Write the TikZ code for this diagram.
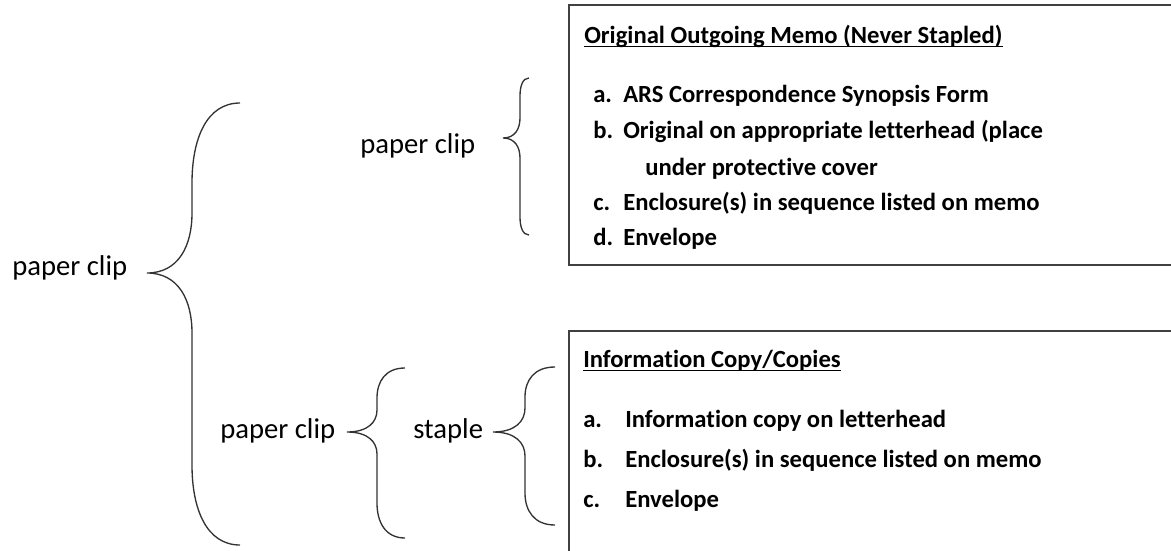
\documentclass[tikz,border=0pt]{standalone}
\usepackage{fontspec}
\setmainfont{Carlito}[Ligatures=NoCommon]
\newcommand\mybrace[9]{% #1 tip x, #2 tip y, #3 spine x, #4 end x, #5 top y, #6 bottom y, #7 top radius, #8 tip radius, #9 bottom radius
  \draw[brc] (#4,#5) .. controls ({#3+0.3*(#4-#3)},#5) and (#3,{#5+0.45*#7}) .. (#3,{#5+#7})
    -- (#3,{#2-#8}) .. controls (#3,{#2-0.45*#8}) and ({#3-0.3*(#3-#1)},#2) .. (#1,#2)
    .. controls ({#3-0.3*(#3-#1)},#2) and (#3,{#2+0.45*#8}) .. (#3,{#2+#8})
    -- (#3,{#6-#9}) .. controls (#3,{#6-0.45*#9}) and ({#3+0.3*(#4-#3)},#6) .. (#4,#6);}
\begin{document}
\begin{tikzpicture}[x=0.75pt,y=-0.75pt,
  lbl/.style={font=\fontsize{21.5}{25}\selectfont, anchor=base west, inner sep=0pt},
  item/.style={font=\fontsize{18.5}{22}\selectfont\bfseries, anchor=base west, inner sep=0pt},
  brc/.style={draw=black!80, line width=1pt},
  boxst/.style={draw=black!75, line width=1.2pt, anchor=north west, inner sep=0pt},
  ul/.style={draw=black, line width=1pt}]
\useasboundingbox (0,0) rectangle (1171,550);
\clip (0,0) rectangle (1171,550);

% braces
\mybrace{147}{273}{192}{240}{103}{545}{80}{60}{80}
\mybrace{503}{138}{520}{529}{78}{235}{18}{20}{18}
\mybrace{347}{432}{377}{405}{368}{538}{30}{22}{35}
\mybrace{493}{432}{525}{555}{367}{525}{30}{24}{32}

% labels
\node[lbl] (pc0) at (12,275) {paper clip};
\node[lbl] (pc1) at (360,153) {paper clip};
\node[lbl] (pc2) at (220,438) {paper clip};
\node[lbl] (st) at (413,438) {staple};

% box 1
\node[boxst, minimum width=462.75pt, minimum height=195pt] (box1) at (568,4) {};
\node[item] (t1) at (584,43) {Original Outgoing Memo (Never Stapled)};
\draw[ul] ([yshift=-2.5pt]t1.base west) -- ([yshift=-2.5pt]t1.base east);
\node[item] (a1l) at (593,102) {a.};
\node[item] (a1) at (623,102) {ARS Correspondence Synopsis Form};
\node[item] (b1l) at (593,138) {b.};
\node[item] (b1) at (623,138) {Original on appropriate letterhead (place};
\node[item] (b1x) at (645,175) {under protective cover};
\node[item] (c1l) at (593,210) {c.};
\node[item] (c1) at (623,210) {Enclosure(s) in sequence listed on memo};
\node[item] (d1l) at (593,245) {d.};
\node[item] (d1) at (623,245) {Envelope};

% box 2
\node[boxst, minimum width=462.75pt, minimum height=180pt] (box2) at (568,330) {};
\node[item] (t2) at (583,367) {Information Copy/Copies};
\draw[ul] ([yshift=-2.5pt]t2.base west) -- ([yshift=-2.5pt]t2.base east);
\node[item] (a2l) at (583,427) {a.};
\node[item] (a2) at (625,427) {Information copy on letterhead};
\node[item] (b2l) at (583,467) {b.};
\node[item] (b2) at (625,467) {Enclosure(s) in sequence listed on memo};
\node[item] (c2l) at (583,507) {c.};
\node[item] (c2) at (625,507) {Envelope};
\end{tikzpicture}
\end{document}
